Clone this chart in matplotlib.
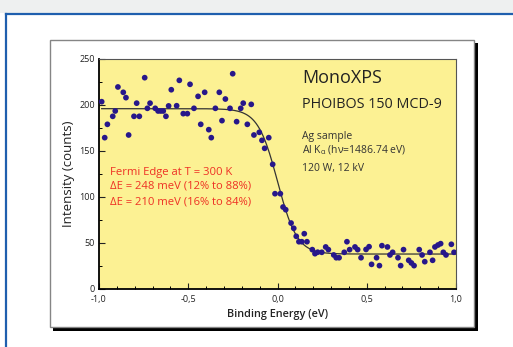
import numpy as np
import matplotlib
matplotlib.use("Agg")
import matplotlib.pyplot as plt
from matplotlib.patches import Rectangle
from matplotlib.lines import Line2D

plt.rcParams['font.family'] = ['Open Sans', 'DejaVu Sans']

# ---- data ----
energy = [-0.985, -0.968, -0.953, -0.923, -0.909, -0.894, -0.864, -0.849, -0.834, -0.804,
          -0.789, -0.774, -0.744, -0.729, -0.714, -0.685, -0.669, -0.654, -0.640, -0.625,
          -0.610, -0.595, -0.565, -0.550, -0.528, -0.505, -0.490, -0.468, -0.445, -0.430,
          -0.408, -0.385, -0.371, -0.348, -0.326, -0.311, -0.292, -0.266, -0.251, -0.229,
          -0.206, -0.192, -0.169, -0.147, -0.132, -0.102, -0.087, -0.072, -0.049, -0.027,
          -0.014, 0.016, 0.031, 0.046, 0.076, 0.091, 0.105, 0.120, 0.136, 0.150,
          0.165, 0.195, 0.210, 0.225, 0.248, 0.270, 0.285, 0.315, 0.329, 0.345,
          0.374, 0.389, 0.404, 0.434, 0.449, 0.468, 0.496, 0.513, 0.527, 0.555,
          0.571, 0.585, 0.616, 0.630, 0.645, 0.675, 0.690, 0.706, 0.735, 0.750,
          0.765, 0.794, 0.810, 0.825, 0.854, 0.869, 0.882, 0.899, 0.914, 0.929,
          0.944, 0.974, 0.989]
counts = [203.6, 164.5, 179.0, 187.7, 193.5, 219.6, 213.8, 208.0, 167.4, 187.7,
          202.0, 187.7, 229.7, 196.4, 202.0, 196.4, 193.5, 193.5, 193.5, 187.7,
          199.0, 216.6, 199.2, 226.8, 190.6, 190.6, 222.5, 196.4, 209.4, 179.0,
          213.8, 173.2, 164.5, 196.4, 213.8, 183.0, 206.5, 196.4, 234.0, 181.9,
          196.4, 202.0, 179.0, 200.7, 167.4, 170.3, 161.6, 152.9, 164.5, 135.5,
          103.6, 103.6, 89.1, 86.2, 71.7, 66.0, 57.3, 51.4, 51.4, 60.1,
          51.4, 42.8, 38.4, 40.0, 39.9, 45.7, 42.8, 37.0, 34.0, 34.0,
          39.9, 51.4, 42.8, 45.7, 42.8, 34.0, 43.0, 46.0, 26.8, 34.0,
          25.4, 47.1, 45.7, 37.0, 39.9, 34.0, 25.4, 42.8, 31.2, 28.3,
          25.4, 42.8, 37.0, 29.7, 39.9, 31.2, 45.7, 47.8, 49.3, 39.9,
          37.0, 48.6, 39.9]

# Fermi-edge fit parameters
fit_top = 196.0
fit_bg = 38.0
fit_ef = 0.0
fit_width = 0.055
fit_range = (-0.985, 1.0)

xticks = [-1.0, -0.5, 0.0, 0.5, 1.0]
xticklabels = ["-1,0", "-0,5", "0,0", "0,5", "1,0"]
yticks = [0, 50, 100, 150, 200, 250]

W, H = 513, 347
fig = plt.figure(figsize=(W / 100, H / 100), dpi=100)
fig.patch.set_facecolor('white')

def fx(px):
    return px / W

def fy(py):
    return 1 - py / H

# page background / frame
fig.patches.append(Rectangle((0, fy(13)), 1, 13 / H, transform=fig.transFigure,
                             facecolor='#eef0f0', edgecolor='none', zorder=0))
fig.lines.append(Line2D([fx(6), 1], [fy(13.5), fy(13.5)], transform=fig.transFigure,
                        color='#1f5fae', lw=1.6, zorder=1))
fig.lines.append(Line2D([fx(6), fx(6)], [fy(13.5), 0], transform=fig.transFigure,
                        color='#1f5fae', lw=1.6, zorder=1))
# card shadow and card
fig.patches.append(Rectangle((fx(53), fy(331)), (478 - 53) / W, (331 - 43) / H,
                             transform=fig.transFigure, facecolor='black',
                             edgecolor='none', zorder=1))
fig.patches.append(Rectangle((fx(49.5), fy(326.5)), (474 - 49.5) / W, (326.5 - 39.5) / H,
                             transform=fig.transFigure, facecolor='white',
                             edgecolor='#858585', lw=1.0, zorder=2))

ax = fig.add_axes([fx(99), fy(289), (456 - 99) / W, (289 - 59) / H], zorder=3)
ax.set_facecolor('#fcf193')

xs = np.linspace(fit_range[0], fit_range[1], 400)
fit = fit_bg + (fit_top - fit_bg) / (1 + np.exp((xs - fit_ef) / fit_width))
ax.plot(xs, fit, color='#333333', lw=0.9, zorder=2)
ax.scatter(energy, counts, s=17, color='#27178a', edgecolors='none', zorder=3)

ax.set_xlim(-1.0, 1.0)
ax.set_ylim(0, 250)
ax.set_xticks(xticks)
ax.set_xticklabels(xticklabels)
ax.set_yticks(yticks)
ax.set_xticks(np.arange(-1.0, 1.01, 0.1), minor=True)
ax.set_yticks(np.arange(0, 251, 25), minor=True)
ax.tick_params(axis='both', which='major', direction='in', length=4, width=0.8,
               labelsize=6.5, colors='#222222')
ax.tick_params(axis='x', which='major', pad=4)
ax.tick_params(axis='y', which='major', pad=3)
ax.tick_params(axis='both', which='minor', direction='in', length=2.5, width=0.7)
ax.tick_params(top=False, right=False, which='both')

for s in ['left', 'bottom']:
    ax.spines[s].set_linewidth(1.3)
    ax.spines[s].set_color('black')
for s in ['top', 'right']:
    ax.spines[s].set_linewidth(0.8)
    ax.spines[s].set_color('#555555')

ax.set_ylabel('Intensity (counts)', fontsize=9.5, color='#222222', labelpad=3)
ax.set_xlabel('Binding Energy (eV)', fontsize=7.8, fontweight='semibold', color='#222222',
              labelpad=4)

# annotations
ax.text(fx(302), fy(78), 'MonoXPS', transform=fig.transFigure, fontsize=13,
        color='#222222', va='center', ha='left')
ax.text(fx(302), fy(105), 'PHOIBOS 150 MCD-9', transform=fig.transFigure, fontsize=10.4,
        color='#222222', va='center', ha='left')
ax.text(fx(302), fy(136.5), 'Ag sample', transform=fig.transFigure, fontsize=7.5,
        color='#333333', va='center', ha='left')
ax.text(fx(302), fy(150), r'Al K$_{\mathregular{α}}$ (hν=1486.74 eV)',
        transform=fig.transFigure, fontsize=7.5, color='#333333', va='center', ha='left')
ax.text(fx(302), fy(168), '120 W, 12 kV', transform=fig.transFigure, fontsize=7.5,
        color='#333333', va='center', ha='left')

red = '#ee3124'
ax.text(fx(110), fy(172.5), 'Fermi Edge at T = 300 K', transform=fig.transFigure,
        fontsize=8.1, color=red, va='center', ha='left')
ax.text(fx(110), fy(186.5), 'ΔE = 248 meV (12% to 88%)', transform=fig.transFigure,
        fontsize=8.1, color=red, va='center', ha='left')
ax.text(fx(110), fy(201.5), 'ΔE = 210 meV (16% to 84%)', transform=fig.transFigure,
        fontsize=8.1, color=red, va='center', ha='left')

fig.savefig('out.png', dpi=100)
